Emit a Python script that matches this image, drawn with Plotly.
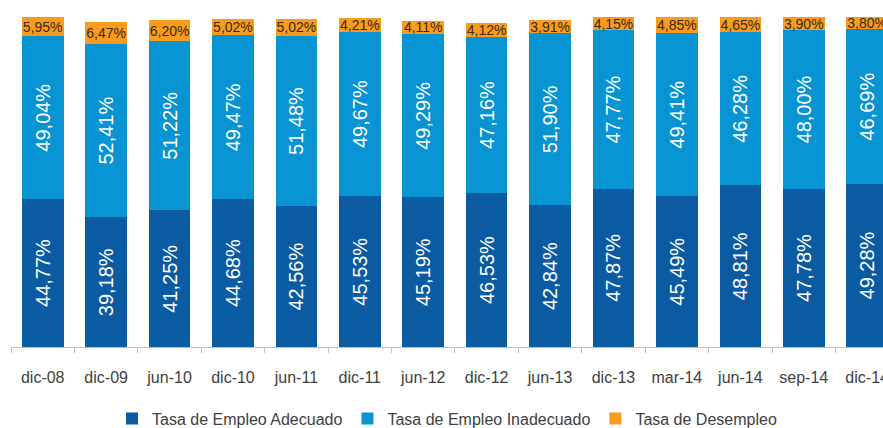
import plotly.graph_objects as go

categories = ["dic-08", "dic-09", "jun-10", "dic-10", "jun-11", "dic-11", "jun-12",
              "dic-12", "jun-13", "dic-13", "mar-14", "jun-14", "sep-14", "dic-14"]
adecuado = [44.77, 39.18, 41.25, 44.68, 42.56, 45.53, 45.19, 46.53, 42.84, 47.87, 45.49, 48.81, 47.78, 49.28]
inadecuado = [49.04, 52.41, 51.22, 49.47, 51.48, 49.67, 49.29, 47.16, 51.90, 47.77, 49.41, 46.28, 48.00, 46.69]
desempleo = [5.95, 6.47, 6.20, 5.02, 5.02, 4.21, 4.11, 4.12, 3.91, 4.15, 4.85, 4.65, 3.90, 3.80]

def fmt(vals):
    return [f"{v:.2f}%".replace(".", ",") for v in vals]

FONT = "Liberation Sans, Arial, sans-serif"

fig = go.Figure()
fig.add_trace(go.Bar(
    x=categories, y=adecuado, name="Tasa de Empleo Adecuado",
    marker=dict(color="#0B5BA3", line=dict(width=0)),
    text=fmt(adecuado), textposition="inside", insidetextanchor="middle",
    textangle=-90, constraintext="none",
    textfont=dict(family=FONT, size=20, color="#FFFFFF"),
))
fig.add_trace(go.Bar(
    x=categories, y=inadecuado, name="Tasa de Empleo Inadecuado",
    marker=dict(color="#0893D3", line=dict(width=0)),
    text=fmt(inadecuado), textposition="inside", insidetextanchor="middle",
    textangle=-90, constraintext="none",
    textfont=dict(family=FONT, size=20, color="#FFFFFF"),
))
fig.add_trace(go.Bar(
    x=categories, y=desempleo, name="Tasa de Desempleo",
    marker=dict(color="#F99B1F", line=dict(width=0)),
    text=fmt(desempleo), textposition="inside", insidetextanchor="middle",
    textangle=0, constraintext="none",
    textfont=dict(family=FONT, size=14, color="#3A2A12"),
))

fig.update_layout(
    width=883, height=428,
    margin=dict(l=11, r=0, t=16, b=81, autoexpand=False),
    barmode="stack", bargap=0.344,
    plot_bgcolor="white", paper_bgcolor="white",
    showlegend=True,
    legend=dict(orientation="h", x=0.5, xanchor="center", y=-0.165, yanchor="top",
                font=dict(family=FONT, size=16, color="#404040"),
                traceorder="normal", itemclick=False),
    xaxis=dict(range=[-0.5, 13.25], showline=True, linecolor="#BFBFBF", linewidth=1,
               ticks="outside", tickson="boundaries", ticklen=5, tickcolor="#BFBFBF",
               tickangle=0, automargin=False, ticklabelstandoff=16,
               tickfont=dict(family=FONT, size=16, color="#404040"),
               showgrid=False, fixedrange=True),
    yaxis=dict(range=[0, 100], visible=False, showgrid=False, fixedrange=True,
               automargin=False),
    uniformtext=dict(mode=False),
)

fig.write_html("out.html")
